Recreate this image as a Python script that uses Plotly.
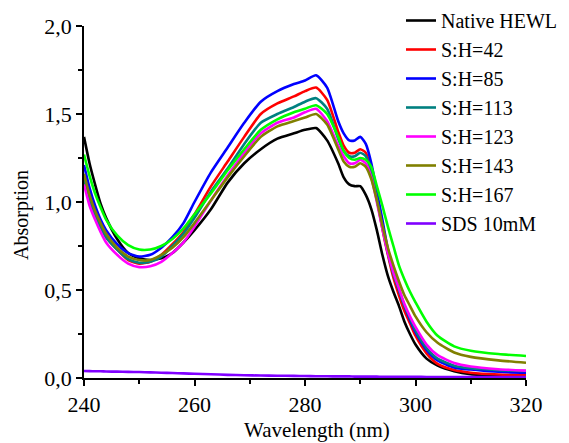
import plotly.graph_objects as go

wavelength = [240, 241, 242, 243, 244, 246, 248, 250, 252, 254, 256, 258, 260, 263, 266, 269, 272, 275, 278, 280,
              282, 284, 286, 287, 288, 289, 290, 291, 292, 293, 294, 295, 296, 297, 298, 299, 300, 302, 304, 307,
              310, 315, 320]

native_hewl = [1.37, 1.22, 1.10, 0.99, 0.91, 0.79, 0.71, 0.68, 0.67, 0.68, 0.71, 0.77, 0.84, 0.96, 1.11, 1.22, 1.30, 1.36, 1.39, 1.41,
               1.42, 1.35, 1.22, 1.14, 1.10, 1.09, 1.09, 1.04, 0.96, 0.84, 0.70, 0.58, 0.49, 0.41, 0.32, 0.25, 0.19, 0.11, 0.07, 0.038,
               0.022, 0.015, 0.012]
sh_42 = [1.13, 1.01, 0.93, 0.86, 0.80, 0.73, 0.67, 0.65, 0.66, 0.70, 0.76, 0.83, 0.93, 1.09, 1.23, 1.37, 1.50, 1.56, 1.60, 1.63,
         1.65, 1.58, 1.40, 1.32, 1.28, 1.28, 1.30, 1.28, 1.18, 1.02, 0.85, 0.70, 0.57, 0.47, 0.38, 0.31, 0.24, 0.14, 0.08, 0.045,
         0.03, 0.02, 0.017]
sh_85 = [1.21, 1.08, 0.98, 0.90, 0.84, 0.76, 0.71, 0.69, 0.70, 0.74, 0.80, 0.88, 1.00, 1.17, 1.31, 1.45, 1.57, 1.63, 1.67, 1.69,
         1.72, 1.65, 1.46, 1.39, 1.35, 1.35, 1.37, 1.33, 1.22, 1.06, 0.90, 0.73, 0.60, 0.50, 0.41, 0.33, 0.26, 0.16, 0.10, 0.06,
         0.048, 0.036, 0.03]
sh_113 = [1.13, 1.01, 0.93, 0.86, 0.80, 0.73, 0.675, 0.655, 0.66, 0.69, 0.75, 0.82, 0.91, 1.06, 1.19, 1.33, 1.45, 1.50, 1.54, 1.57,
          1.59, 1.53, 1.36, 1.29, 1.26, 1.26, 1.28, 1.26, 1.17, 1.02, 0.86, 0.71, 0.59, 0.50, 0.41, 0.34, 0.27, 0.17, 0.11, 0.07,
          0.055, 0.045, 0.04]
sh_123 = [1.10, 0.98, 0.90, 0.83, 0.77, 0.70, 0.65, 0.63, 0.635, 0.66, 0.71, 0.77, 0.86, 1.01, 1.15, 1.28, 1.39, 1.45, 1.48, 1.51,
          1.53, 1.46, 1.32, 1.26, 1.22, 1.22, 1.24, 1.22, 1.14, 1.00, 0.85, 0.71, 0.60, 0.51, 0.42, 0.35, 0.29, 0.19, 0.13, 0.085,
          0.065, 0.05, 0.042]
sh_143 = [1.16, 1.04, 0.95, 0.88, 0.82, 0.74, 0.69, 0.67, 0.67, 0.70, 0.74, 0.80, 0.88, 1.01, 1.14, 1.26, 1.37, 1.43, 1.46, 1.48,
          1.50, 1.44, 1.30, 1.23, 1.20, 1.20, 1.22, 1.20, 1.13, 1.01, 0.87, 0.74, 0.64, 0.55, 0.47, 0.41, 0.35, 0.26, 0.20, 0.145,
          0.12, 0.10, 0.087]
sh_167 = [1.27, 1.15, 1.05, 0.97, 0.90, 0.81, 0.755, 0.73, 0.73, 0.75, 0.79, 0.85, 0.93, 1.05, 1.18, 1.30, 1.41, 1.47, 1.51, 1.53,
          1.55, 1.50, 1.37, 1.29, 1.25, 1.24, 1.25, 1.24, 1.20, 1.09, 0.98, 0.86, 0.75, 0.64, 0.56, 0.49, 0.43, 0.32, 0.24, 0.18,
          0.155, 0.136, 0.125]
sds_10mm = [0.040, 0.039, 0.038, 0.038, 0.037, 0.036, 0.035, 0.034, 0.032, 0.030, 0.028, 0.026, 0.024, 0.021, 0.018, 0.016, 0.014, 0.013, 0.012, 0.011,
            0.010, 0.010, 0.009, 0.009, 0.009, 0.008, 0.008, 0.008, 0.008, 0.008, 0.007, 0.007, 0.007, 0.007, 0.007, 0.007, 0.007, 0.006, 0.006, 0.006,
            0.006, 0.005, 0.005]

series_names = ["Native HEWL", "S:H=42", "S:H=85", "S:H=113", "S:H=123", "S:H=143", "S:H=167", "SDS 10mM"]
series_values = [native_hewl, sh_42, sh_85, sh_113, sh_123, sh_143, sh_167, sds_10mm]
series_colors = ["#000000", "#FF0000", "#0000FF", "#008080", "#FF00FF", "#808000", "#00FF00", "#8000FF"]

x_ticks = [240, 260, 280, 300, 320]
y_ticks = [0.0, 0.5, 1.0, 1.5, 2.0]

FONT = "Liberation Serif"

# the page body adds an 8 px offset; layout is expressed in figure pixels
W, H = 561, 435
L, T = 76, 18
PW, PH = 442, 352

fig = go.Figure()
for name, vals, col in zip(series_names, series_values, series_colors):
    fig.add_trace(go.Scatter(x=wavelength, y=vals, name=name, mode="lines",
                             line=dict(color=col, width=2.6, shape="spline", smoothing=0.6)))

fig.update_layout(
    width=W, height=H,
    margin=dict(l=L, r=W - L - PW, t=T, b=H - T - PH, autoexpand=False),
    paper_bgcolor="white", plot_bgcolor="white",
    separators=",.",
    font=dict(family=FONT, color="black", size=20),
    showlegend=True,
    legend=dict(x=(393 - L) / PW, y=1 + (T + 7) / PH, xref="paper", yref="paper",
                xanchor="left", yanchor="top", maxheight=420,
                font=dict(family=FONT, size=20, color="black"),
                bgcolor="rgba(0,0,0,0)", borderwidth=0, tracegroupgap=0),
    xaxis=dict(range=[240, 320], tickvals=x_ticks, ticktext=[str(v) for v in x_ticks],
               showline=True, linecolor="black", linewidth=1.5, mirror=False,
               ticks="outside", ticklen=6, tickwidth=1.5, tickcolor="black",
               minor=dict(dtick=10, ticks="outside", ticklen=4, tickwidth=1.5, tickcolor="black"),
               showgrid=False, zeroline=False,
               tickfont=dict(family=FONT, size=22, color="black")),
    yaxis=dict(range=[0, 2], tickvals=y_ticks, tickformat=".1f",
               showline=True, linecolor="black", linewidth=1.5, mirror=False,
               ticks="outside", ticklen=6, tickwidth=1.5, tickcolor="black",
               minor=dict(dtick=0.25, ticks="outside", ticklen=4, tickwidth=1.5, tickcolor="black"),
               showgrid=False, zeroline=False,
               tickfont=dict(family=FONT, size=22, color="black")),
    annotations=[
        dict(text="Wavelength (nm)", xref="paper", yref="paper", x=(309 - L) / PW, y=-(422 - T - PH) / PH,
             xanchor="center", yanchor="middle", showarrow=False, font=dict(family=FONT, size=21, color="black")),
        dict(text="Absorption", xref="paper", yref="paper", x=-(L - 14) / PW, y=(T + PH - 207) / PH,
             xanchor="center", yanchor="middle", textangle=-90, showarrow=False,
             font=dict(family=FONT, size=20, color="black")),
    ],
)

fig.write_html("out.html")
